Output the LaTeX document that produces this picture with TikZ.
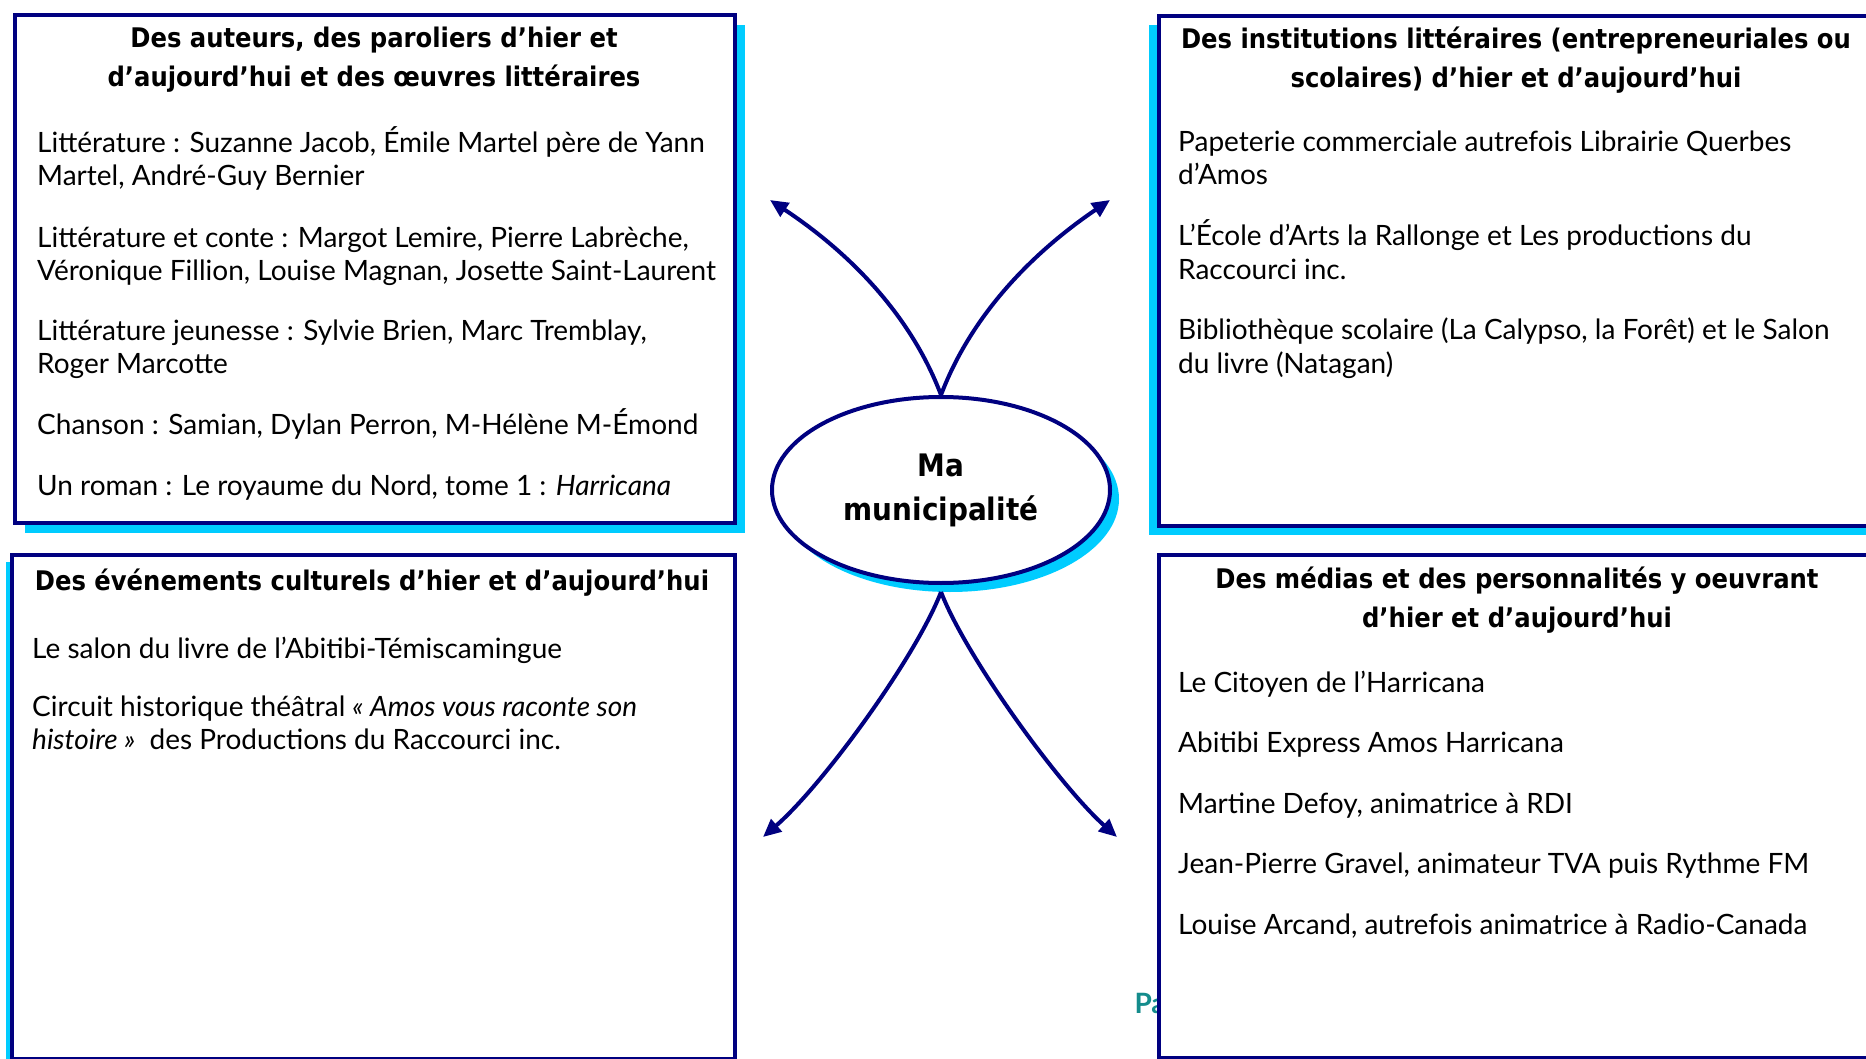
\documentclass[tikz,border=0pt]{standalone}
\usepackage{fontspec}
\setmainfont{Lato}
\newfontfamily\headfont{DejaVu Sans Condensed}
\usetikzlibrary{shapes.geometric}
\usetikzlibrary{arrows.meta}
\usetikzlibrary{shadows}
\definecolor{navyline}{RGB}{0,0,128}
\definecolor{shadecyan}{RGB}{0,204,255}
\definecolor{tealtext}{RGB}{20,140,140}

\tikzset{
  panel/.style={draw=navyline, line width=4pt, fill=white, rectangle, inner sep=0pt, anchor=north west},
  title/.style={font=\headfont\bfseries\fontsize{27}{39}\selectfont, align=center},
  body/.style={font=\fontsize{28}{33}\selectfont, align=left, anchor=base west, inner sep=0pt},
  link/.style={draw=navyline, line width=4pt, -{Triangle[length=18pt,width=16pt]}}
}

\begin{document}
\begin{tikzpicture}[x=1pt, y=-1pt]
            \useasboundingbox (0,0) rectangle (1866,1059);

            % text left over behind the media panel
            \node[anchor=west, font=\bfseries\fontsize{28}{30}\selectfont, text=tealtext] (pagemark) at (1131,1003) {Pa};

            % the four panels
            \node[panel, minimum width=720pt, minimum height=508pt,
                  drop shadow={shadow xshift=10pt, shadow yshift=-10pt, fill=shadecyan, opacity=1}] (authors) at (13,13) {};
            \node[panel, minimum width=740pt, minimum height=510pt,
                  drop shadow={shadow xshift=-10pt, shadow yshift=-9pt, fill=shadecyan, opacity=1}] (institutions) at (1157,14) {};
            \node[panel, minimum width=723pt, minimum height=504pt,
                  drop shadow={shadow xshift=-6pt, shadow yshift=-7pt, fill=shadecyan, opacity=1}] (events) at (10,553) {};
            \node[panel, minimum width=740pt, minimum height=503pt,
                  drop shadow={shadow xshift=8pt, shadow yshift=-8pt, fill=shadecyan, opacity=1}] (media) at (1157,553) {};

            % titles
            \node[title] (authorstitle) at (374,60) {Des auteurs, des paroliers d’hier et\\d’aujourd’hui et des œuvres littéraires};
            \node[title] (institutionstitle) at (1516,60) {Des institutions littéraires (entrepreneuriales ou\\scolaires) d’hier et d’aujourd’hui};
            \node[title] (eventstitle) at (372,583) {Des événements culturels d’hier et d’aujourd’hui};
            \node[title] (mediatitle) at (1517,600) {Des médias et des personnalités y oeuvrant\\d’hier et d’aujourd’hui};

            % lists (placed by the baseline of their last line)
            \node[body] (authorslist) at (37,495) {Littérature : Suzanne Jacob, Émile Martel père de Yann\\Martel, André-Guy Bernier\\[29pt]
                Littérature et conte : Margot Lemire, Pierre Labrèche,\\Véronique Fillion, Louise Magnan, Josette Saint-Laurent\\[27pt]
                Littérature jeunesse : Sylvie Brien, Marc Tremblay,\\Roger Marcotte\\[28pt]
                Chanson : Samian, Dylan Perron, M-Hélène M-Émond\\[28pt]
                Un roman : Le royaume du Nord, tome 1 : \textit{Harricana}};
            \node[body] (institutionslist) at (1178,373) {Papeterie commerciale autrefois Librairie Querbes\\d’Amos\\[29pt]
                L’École d’Arts la Rallonge et Les productions du\\Raccourci inc.\\[28pt]
                Bibliothèque scolaire (La Calypso, la Forêt) et le Salon\\du livre (Natagan)};
            \node[body] (eventslist) at (32,749) {Le salon du livre de l’Abitibi-Témiscamingue\\[25pt]
                Circuit historique théâtral \textit{« Amos vous raconte son}\\\textit{histoire »}~ des Productions du Raccourci inc.};
            \node[body] (medialist) at (1178,934) {Le Citoyen de l’Harricana\\[27.5pt]
                Abitibi Express Amos Harricana\\[27.5pt]
                Martine Defoy, animatrice à RDI\\[27.5pt]
                Jean-Pierre Gravel, animateur TVA puis Rythme FM\\[27.5pt]
                Louise Arcand, autrefois animatrice à Radio-Canada};

            % centre
            \node[draw=navyline, line width=4pt, ellipse, fill=white, minimum width=338pt, minimum height=186pt, align=center,
                  font=\headfont\bfseries\fontsize{31}{44}\selectfont,
                  drop shadow={shadow xshift=9pt, shadow yshift=-9pt, fill=shadecyan, opacity=1}] (hub) at (941,490) {Ma\\municipalité};

            \coordinate (hubbot) at (941,592);
            \coordinate (tlend) at (770,200);
            \coordinate (trend) at (1110,200);
            \coordinate (blend) at (763,837);
            \coordinate (brend) at (1117,837);

            \draw[link] (hub.north) .. controls (912,318) and (853,255) .. (tlend);
            \draw[link] (hub.north) .. controls (970,318) and (1029,255) .. (trend);
            \draw[link] (hubbot) .. controls (916,657) and (823,785) .. (blend);
            \draw[link] (hubbot) .. controls (966,657) and (1059,785) .. (brend);
\end{tikzpicture}
\end{document}
